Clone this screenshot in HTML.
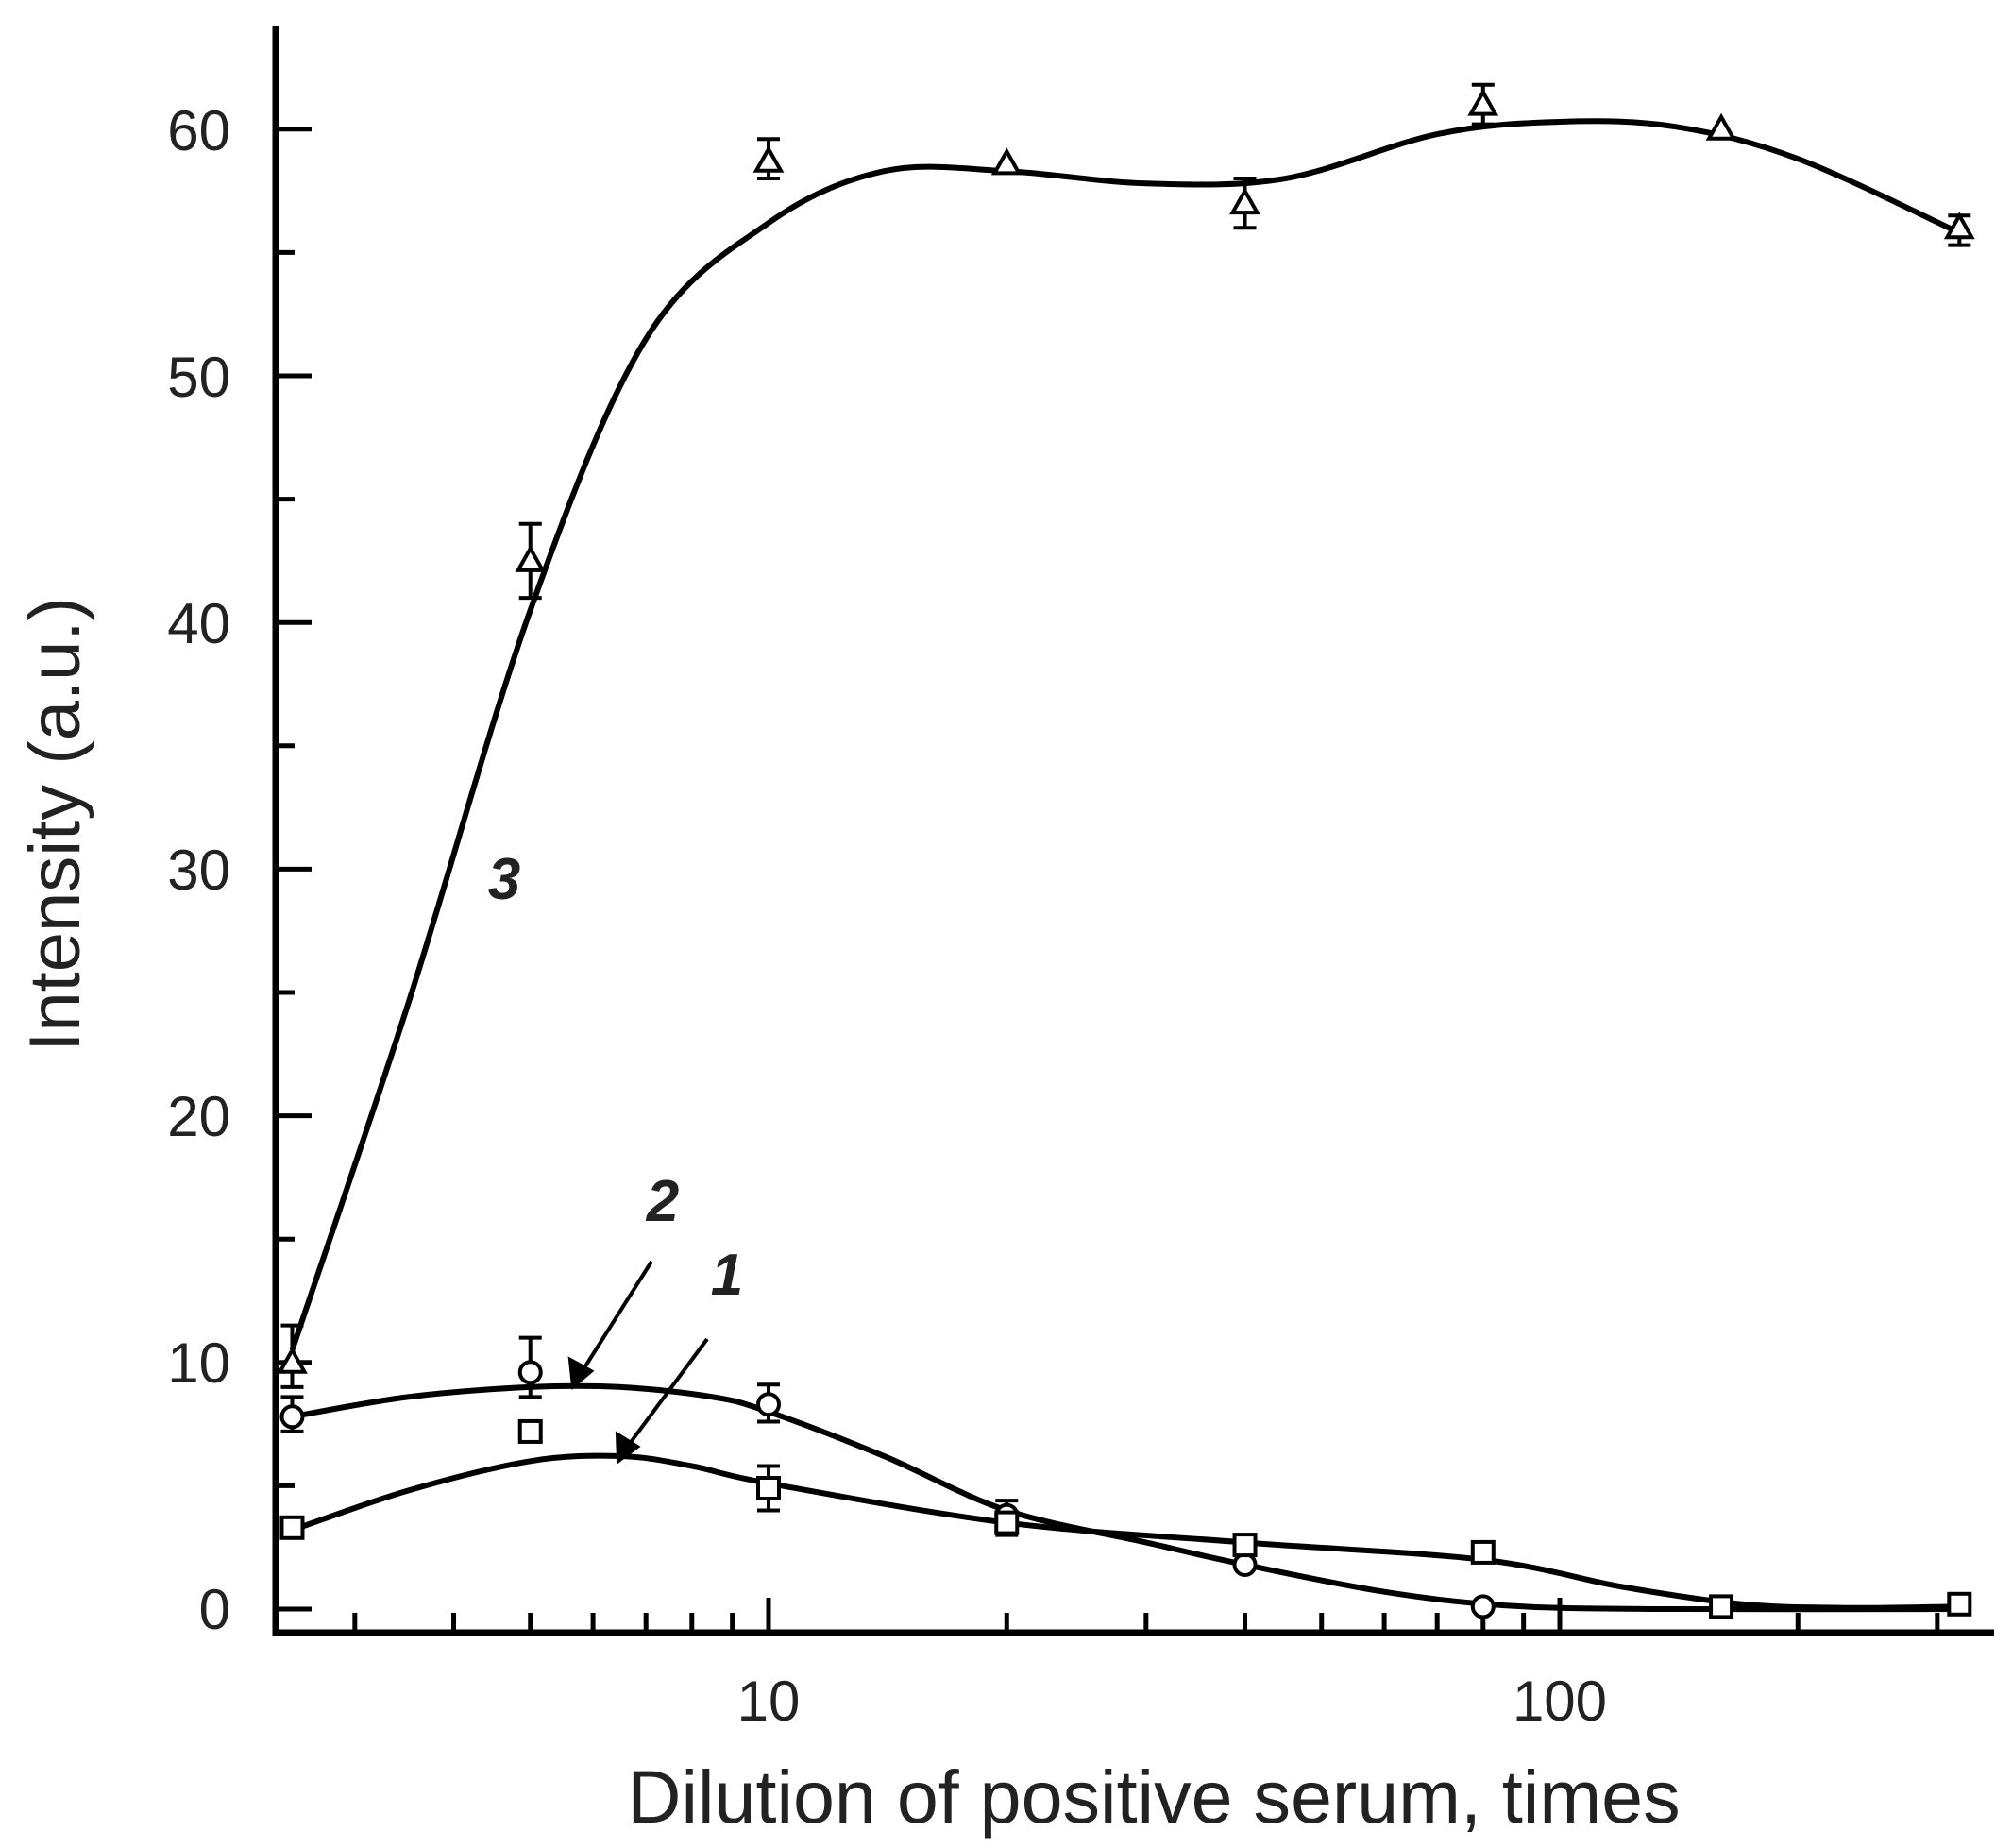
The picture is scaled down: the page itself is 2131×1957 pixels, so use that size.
<!DOCTYPE html>
<html><head><meta charset="utf-8"><style>
html,body{margin:0;padding:0;background:#fff;}
svg{display:block;}
text{font-family:"Liberation Sans",sans-serif;fill:#222;}
</style></head><body>
<svg id="s" width="2131" height="1957" viewBox="0 0 2131 1957" xmlns="http://www.w3.org/2000/svg">
<g id="ax" stroke="#000" stroke-width="7" fill="none"></g>
<g id="curves" stroke="#000" stroke-width="6" fill="none" stroke-linejoin="round"></g>
<g id="marks" stroke="#000" stroke-width="4" fill="#fff"></g>
<g font-size="60" text-anchor="end">
<text x="244" y="1725">0</text>
<text x="244" y="1464">10</text>
<text x="244" y="1203">20</text>
<text x="244" y="942">30</text>
<text x="244" y="681">40</text>
<text x="244" y="420">50</text>
<text x="244" y="159">60</text>
</g>
<g font-size="60" text-anchor="middle">
<text x="814" y="1822">10</text>
<text x="1652" y="1822">100</text>
</g>
<text x="1222" y="1930" font-size="79" text-anchor="middle">Dilution of positive serum, times</text>
<text transform="translate(84,873) rotate(-90)" font-size="76" text-anchor="middle">Intensity (a.u.)</text>
<g font-size="62" font-weight="bold" font-style="italic" text-anchor="middle" style="fill:#000">
<text x="534" y="952">3</text>
<text x="702" y="1293">2</text>
<text x="770" y="1371">1</text>
</g>
<g stroke="#000" stroke-width="4" fill="#000">
<line x1="690" y1="1336" x2="618" y2="1450"/>
<polygon points="607,1468 604,1440 626,1452"/>
<line x1="749" y1="1418" x2="666" y2="1530"/>
<polygon points="655,1547 654,1519 675,1532"/>
</g>
</svg>
<script>
const X=v=>814+838*Math.log10(v/10), Y=v=>1704-26.12*v;
const ns="http://www.w3.org/2000/svg";
function el(p,t,a){const e=document.createElementNS(ns,t);for(const k in a)e.setAttribute(k,a[k]);document.getElementById(p).appendChild(e);return e;}
el("ax","line",{x1:292,y1:28,x2:292,y2:1733});
el("ax","line",{x1:289,y1:1729,x2:2112,y2:1729});
for(let v=0;v<=60;v+=5){const y=Y(v);el("ax","line",{x1:292,y1:y,x2:v%10==0?330:312,y2:y,"stroke-width":5});}
for(const d of [1,10,100]){for(let k=1;k<10;k++){const v=d*k;if(v<2.5||v>400)continue;const x=X(v);if(x<295||x>2110)continue;el("ax","line",{x1:x,y1:1729,x2:x,y2:(k==1)?1692:1708,"stroke-width":5});}}
function curve(pts){const P=pts.map(p=>[X(p[0]),Y(p[1])]);let d="M"+P[0][0]+","+P[0][1];
for(let i=0;i<P.length-1;i++){const p0=P[Math.max(0,i-1)],p1=P[i],p2=P[i+1],p3=P[Math.min(P.length-1,i+2)];
const c1=[p1[0]+(p2[0]-p0[0])/6,p1[1]+(p2[1]-p0[1])/6],c2=[p2[0]-(p3[0]-p1[0])/6,p2[1]-(p3[1]-p1[1])/6];
d+=" C"+c1+" "+c2+" "+p2;}el("curves","path",{d});}
curve([[2.5,10.5],[3.5,24.5],[5,40.5],[7,51.5],[10,56.2],[14,58.3],[20,58.3],[30,57.8],[45,58],[70,59.8],[100,60.3],[140,60.1],[200,58.8],[320,55.8]]);
curve([[2.5,7.8],[3.5,8.6],[5,9.0],[6.5,9.0],[8.5,8.6],[10,8.0],[14,6.2],[20,4.0],[30,2.7],[40,1.8],[60,0.7],[85,0.15],[130,0],[320,0]]);
curve([[2.5,3.2],[3.5,4.8],[5,6.0],[6.5,6.2],[8,5.8],[10,5.1],[20,3.5],[40,2.7],[80,2.0],[120,0.9],[170,0.2],[230,0.05],[320,0.1]]);
function err(x,lo,hi){const cx=X(x);el("marks","line",{x1:cx,y1:Y(lo),x2:cx,y2:Y(hi)});el("marks","line",{x1:cx-12,y1:Y(lo),x2:cx+12,y2:Y(lo)});el("marks","line",{x1:cx-12,y1:Y(hi),x2:cx+12,y2:Y(hi)});}
function tri(x,v){const cx=X(x),cy=Y(v);el("marks","polygon",{points:`${cx},${cy-13} ${cx-13},${cy+10} ${cx+13},${cy+10}`});}
function sq(x,v){const cx=X(x),cy=Y(v);el("marks","rect",{x:cx-11,y:cy-11,width:22,height:22});}
function ci(x,v){const cx=X(x),cy=Y(v);el("marks","circle",{cx,cy,r:11});}
err(2.5,9,11.5);err(5,41,44);err(10,58,59.6);err(40,56,58);err(80,60.2,61.8);err(320,55.3,56.5);
[[2.5,10],[5,42.5],[10,58.7],[20,58.6],[40,57],[80,61],[160,60],[320,56]].forEach(p=>tri(...p));
err(5,8.6,11);err(10,7.6,9.1);err(20,3.0,4.4);err(2.5,7.2,8.6);
[[2.5,7.8],[5,9.6],[10,8.3],[20,3.8],[40,1.8],[80,0.1]].forEach(p=>ci(...p));
err(10,4.0,5.8);
[[2.5,3.3],[5,7.2],[10,4.9],[20,3.5],[40,2.6],[80,2.3],[160,0.1],[320,0.2]].forEach(p=>sq(...p));
</script>
</body></html>
